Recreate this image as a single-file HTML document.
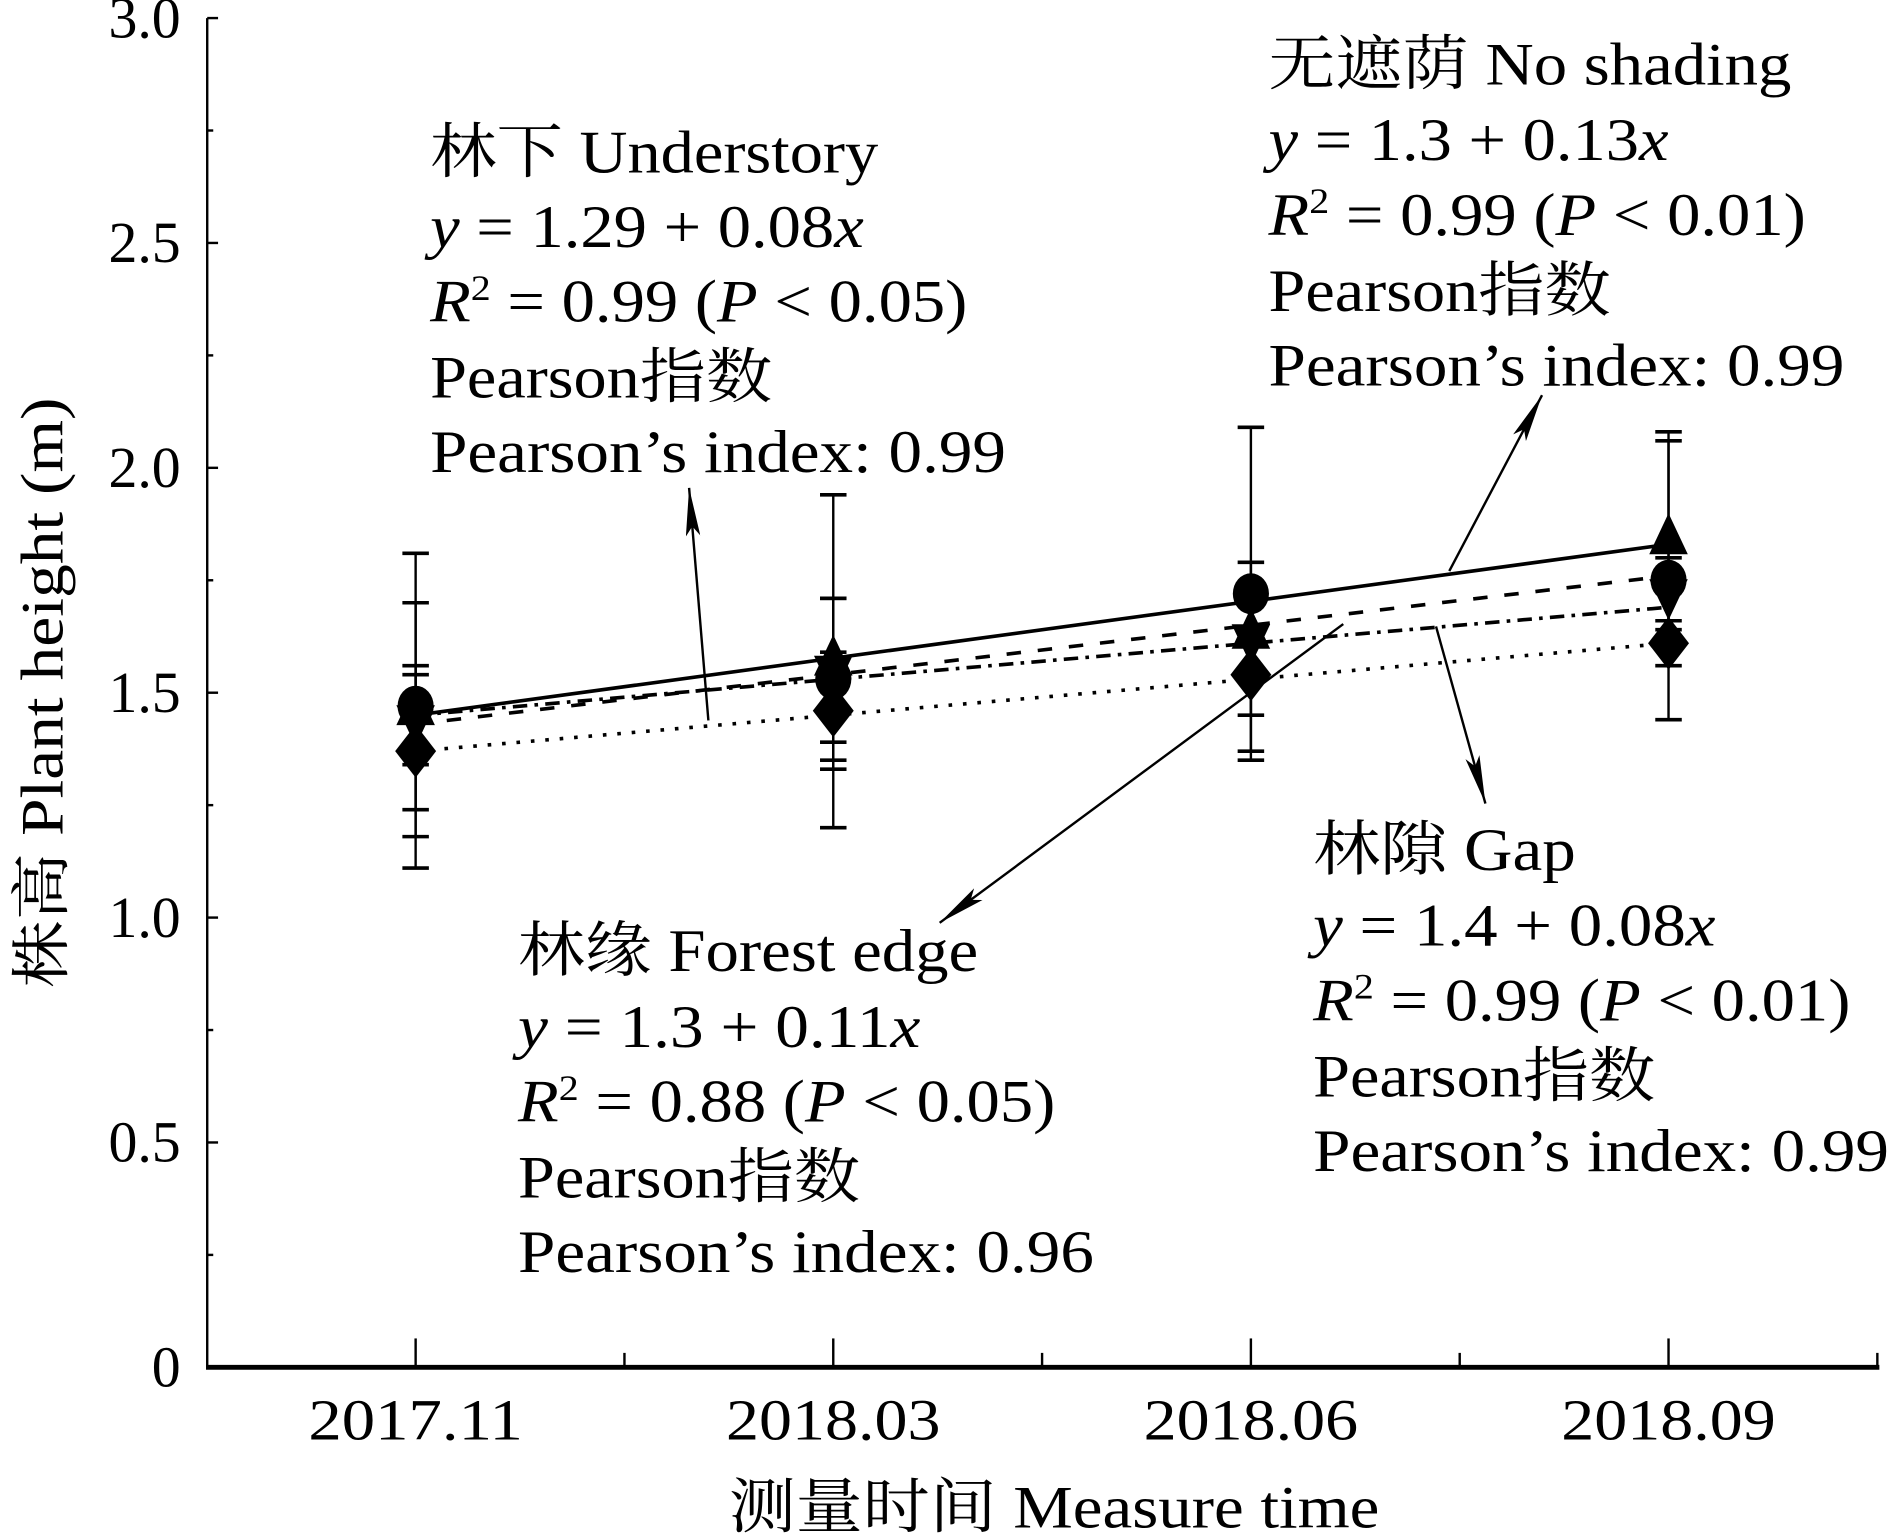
<!DOCTYPE html>
<html><head><meta charset="utf-8"><style>
html,body{margin:0;padding:0;background:#fff}
svg{display:block}
text{font-family:"Liberation Serif","Noto Serif CJK SC","Noto Sans CJK SC",serif;fill:#000}
</style></head><body>
<svg id="chart" width="1889" height="1536" viewBox="0 0 1568 1275" xmlns="http://www.w3.org/2000/svg">
<defs>
<marker id="ah" viewBox="0 0 40 12" refX="40" refY="6" markerWidth="40" markerHeight="12" markerUnits="userSpaceOnUse" orient="auto"><path d="M0,0 L40,6 L0,12 L8,6 Z" fill="#000"/></marker>
</defs>
<g id="axes"></g>
<g id="lines"></g>
<g id="errs"></g>
<g id="marks"></g>
<g stroke="#000" stroke-width="2" fill="none">
<line x1="588" y1="598" x2="572" y2="405" marker-end="url(#ah)"/>
<line x1="1203" y1="474" x2="1280" y2="328" marker-end="url(#ah)"/>
<line x1="1192" y1="520" x2="1233" y2="667" marker-end="url(#ah)"/>
<line x1="1115" y1="518" x2="780" y2="766" marker-end="url(#ah)"/>
</g>
<g font-size="50">
<text x="357" y="143" textLength="372" lengthAdjust="spacingAndGlyphs">林下 Understory</text>
<text x="357" y="205" textLength="360" lengthAdjust="spacingAndGlyphs"><tspan font-style="italic">y</tspan> = 1.29 + 0.08<tspan font-style="italic">x</tspan></text>
<text x="357" y="267" textLength="446" lengthAdjust="spacingAndGlyphs"><tspan font-style="italic">R</tspan><tspan font-size="30" dy="-18">2</tspan><tspan dy="18"> = 0.99 (</tspan><tspan font-style="italic">P</tspan> &lt; 0.05)</text>
<text x="357" y="330" textLength="284" lengthAdjust="spacingAndGlyphs">Pearson指数</text>
<text x="357" y="392" textLength="478" lengthAdjust="spacingAndGlyphs">Pearson’s index: 0.99</text>
</g>
<g font-size="50">
<text x="1053" y="70" textLength="434" lengthAdjust="spacingAndGlyphs">无遮荫 No shading</text>
<text x="1053" y="133" textLength="332" lengthAdjust="spacingAndGlyphs"><tspan font-style="italic">y</tspan> = 1.3 + 0.13<tspan font-style="italic">x</tspan></text>
<text x="1053" y="195" textLength="446" lengthAdjust="spacingAndGlyphs"><tspan font-style="italic">R</tspan><tspan font-size="30" dy="-18">2</tspan><tspan dy="18"> = 0.99 (</tspan><tspan font-style="italic">P</tspan> &lt; 0.01)</text>
<text x="1053" y="258" textLength="284" lengthAdjust="spacingAndGlyphs">Pearson指数</text>
<text x="1053" y="320" textLength="478" lengthAdjust="spacingAndGlyphs">Pearson’s index: 0.99</text>
</g>
<g font-size="50">
<text x="1090" y="722" textLength="218" lengthAdjust="spacingAndGlyphs">林隙 Gap</text>
<text x="1090" y="785" textLength="334" lengthAdjust="spacingAndGlyphs"><tspan font-style="italic">y</tspan> = 1.4 + 0.08<tspan font-style="italic">x</tspan></text>
<text x="1090" y="847" textLength="446" lengthAdjust="spacingAndGlyphs"><tspan font-style="italic">R</tspan><tspan font-size="30" dy="-18">2</tspan><tspan dy="18"> = 0.99 (</tspan><tspan font-style="italic">P</tspan> &lt; 0.01)</text>
<text x="1090" y="910" textLength="284" lengthAdjust="spacingAndGlyphs">Pearson指数</text>
<text x="1090" y="972" textLength="478" lengthAdjust="spacingAndGlyphs">Pearson’s index: 0.99</text>
</g>
<g font-size="50">
<text x="430" y="806" textLength="382" lengthAdjust="spacingAndGlyphs">林缘 Forest edge</text>
<text x="430" y="869" textLength="334" lengthAdjust="spacingAndGlyphs"><tspan font-style="italic">y</tspan> = 1.3 + 0.11<tspan font-style="italic">x</tspan></text>
<text x="430" y="931" textLength="446" lengthAdjust="spacingAndGlyphs"><tspan font-style="italic">R</tspan><tspan font-size="30" dy="-18">2</tspan><tspan dy="18"> = 0.88 (</tspan><tspan font-style="italic">P</tspan> &lt; 0.05)</text>
<text x="430" y="994" textLength="284" lengthAdjust="spacingAndGlyphs">Pearson指数</text>
<text x="430" y="1056" textLength="478" lengthAdjust="spacingAndGlyphs">Pearson’s index: 0.96</text>
</g>
<text x="875" y="1268" font-size="50" text-anchor="middle" textLength="540" lengthAdjust="spacingAndGlyphs">测量时间 Measure time</text>
<text transform="translate(52,575) rotate(-90)" font-size="50" text-anchor="middle" textLength="490" lengthAdjust="spacingAndGlyphs">株高 Plant height (m)</text>
</svg>
<script>
const categories = ["2017.11","2018.03","2018.06","2018.09"];
const yTicks = [0,0.5,1.0,1.5,2.0,2.5,3.0];
const yTickLabels = ["0","0.5","1.0","1.5","2.0","2.5","3.0"];
const noShadingMean = [1.46,1.57,1.63,1.84];
const noShadingSd = [0.35,0.37,0.10,0.24];
const forestEdgeMean = [1.47,1.53,1.72,1.75];
const forestEdgeSd = [0.23,0.18,0.37,0.31];
const gapMean = [1.44,1.55,1.62,1.72];
const gapSd = [0.10,0.16,0.17,0.08];
const understoryMean = [1.37,1.46,1.54,1.61];
const understorySd = [0.19,0.13,0.17,0.05];
const noShadingFit = [1.45,1.83];
const forestEdgeFit = [1.43,1.76];
const gapFit = [1.45,1.69];
const understoryFit = [1.37,1.61];

const NS="http://www.w3.org/2000/svg";
const X0=172,X1=1560,Y0=1135,Y1=15;
function xPos(i){return 345+i*(1385-345)/(categories.length-1);}
function yPos(v){return Y0-(v/3)*(Y0-Y1);}
function mk(tag,attrs,parent){const e=document.createElementNS(NS,tag);for(const k in attrs)e.setAttribute(k,attrs[k]);parent.appendChild(e);return e;}
const axes=document.getElementById('axes');
let e=mk('line',{x1:X0,y1:Y1,x2:X0,y2:Y0,stroke:'#000','stroke-width':2},axes);


e=mk('line',{x1:X0-1,y1:Y0,x2:X1,y2:Y0,stroke:'#000','stroke-width':4},axes);


yTicks.forEach((t,i)=>{
  const y=yPos(t);
  let l=mk('line',{x1:X0,y1:y,x2:X0+9,y2:y,stroke:'#000','stroke-width':2},axes);
  
  
  if(i<yTicks.length-1){
    let m=mk('line',{x1:X0,y1:yPos(t+0.25),x2:X0+5,y2:yPos(t+0.25),stroke:'#000','stroke-width':2},axes);
    
    
  }
  let tx=mk('text',{x:150,y:y+16,'font-size':48,'text-anchor':'end'},axes);
  tx.textContent=yTickLabels[i];
  
  
});
categories.forEach((c,i)=>{
  const x=xPos(i);
  let l=mk('line',{x1:x,y1:Y0,x2:x,y2:Y0-24,stroke:'#000','stroke-width':2},axes);
  
  
  const mx=x+(xPos(1)-xPos(0))/2;
  let m=mk('line',{x1:mx,y1:Y0,x2:mx,y2:Y0-12,stroke:'#000','stroke-width':2},axes);
  
  
  let tx=mk('text',{x:x,y:1195,'font-size':48,'text-anchor':'middle',textLength:178,lengthAdjust:'spacingAndGlyphs'},axes);
  tx.textContent=c;
  
  
});
const series=[
 {name:'no-shading',mean:noShadingMean,sd:noShadingSd,fit:noShadingFit,dash:'',w:3,shape:'up'},
 {name:'forest-edge',mean:forestEdgeMean,sd:forestEdgeSd,fit:forestEdgeFit,dash:'12 14',w:3,shape:'circle'},
 {name:'gap',mean:gapMean,sd:gapSd,fit:gapFit,dash:'12 6 3 6',w:3,shape:'down'},
 {name:'understory',mean:understoryMean,sd:understorySd,fit:understoryFit,dash:'3 9',w:3,shape:'diamond'}
];
const lines=document.getElementById('lines'),errs=document.getElementById('errs'),marks=document.getElementById('marks');
series.forEach(s=>{
  const n=s.mean.length;
  let l=mk('line',{x1:xPos(0),y1:yPos(s.fit[0]),x2:xPos(n-1),y2:yPos(s.fit[1]),stroke:'#000','stroke-width':s.w,'stroke-dasharray':s.dash},lines);
  
  
  s.mean.forEach((v,i)=>{
    const x=xPos(i),yt=yPos(v+s.sd[i]),yb=yPos(v-s.sd[i]);
    const g=mk('g',{stroke:'#000','stroke-width':2},errs);
    
    
    mk('line',{x1:x,y1:yt,x2:x,y2:yb},g);
    mk('line',{x1:x-11,y1:yt,x2:x+11,y2:yt,'stroke-width':3},g);
    mk('line',{x1:x-11,y1:yb,x2:x+11,y2:yb,'stroke-width':3},g);
    const y=yPos(v);let p;
    if(s.shape==='circle')p=mk('ellipse',{cx:x,cy:y,rx:15,ry:17,fill:'#000'},marks);
    else if(s.shape==='up')p=mk('path',{d:`M${x},${y-22}L${x+16},${y+12}L${x-16},${y+12}Z`,fill:'#000'},marks);
    else if(s.shape==='down')p=mk('path',{d:`M${x},${y+22}L${x+16},${y-12}L${x-16},${y-12}Z`,fill:'#000'},marks);
    else p=mk('path',{d:`M${x},${y-22}L${x+17},${y}L${x},${y+22}L${x-17},${y}Z`,fill:'#000'},marks);
    
    
  });
});
</script>
</body></html>
